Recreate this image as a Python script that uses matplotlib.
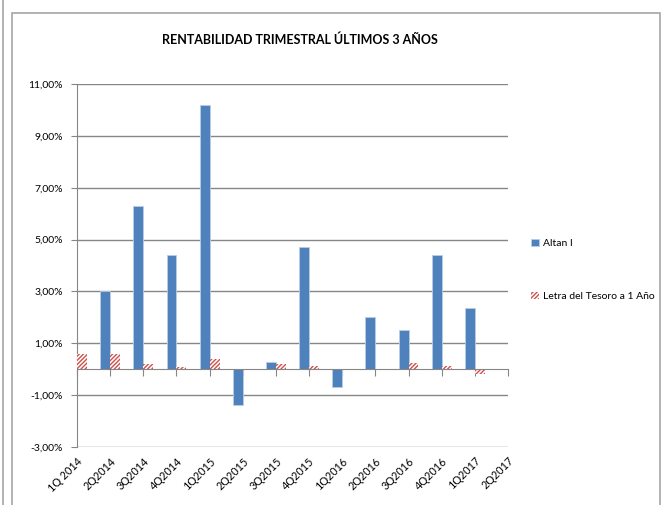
import matplotlib.pyplot as plt
import numpy as np
from matplotlib import font_manager
from matplotlib.patches import Rectangle
from matplotlib.lines import Line2D
from matplotlib.ticker import FuncFormatter, FixedLocator

# the original uses Calibri; Lato is the closest installed
names = set(f.name for f in font_manager.fontManager.ttflist)
fam = 'Lato' if 'Lato' in names else 'Liberation Sans'
plt.rcParams['font.family'] = [fam, 'DejaVu Sans']
plt.rcParams['hatch.linewidth'] = 1.0

# data (quarterly return, %)
quarters = ['1Q 2014', '2Q2014', '3Q2014', '4Q2014', '1Q2015', '2Q2015', '3Q2015',
            '4Q2015', '1Q2016', '2Q2016', '3Q2016', '4Q2016', '1Q2017', '2Q2017']
altan = [np.nan, 3.00, 6.31, 4.41, 10.19, -1.38, 0.28, 4.73, -0.69, 2.02, 1.53, 4.40, 2.35, np.nan]
letra = [0.58, 0.60, 0.19, 0.10, 0.41, 0.0, 0.19, 0.12, 0.0, 0.0, 0.25, 0.14, -0.17, np.nan]
yticks = np.arange(-3, 12, 2)

blue = '#4F81BD'
red = '#D0504D'
grey = '#868686'

fig = plt.figure(figsize=(6.66, 5.05), dpi=100)
ax = fig.add_axes([77 / 666, 1 - 447 / 505, (508 - 77) / 666, (447 - 84) / 505])

x = np.arange(len(quarters))
w = 0.3
ax.bar(x - w / 2, altan, w, color=blue, edgecolor='#B9CDE5', linewidth=0.6, label='Altan I', zorder=3)
ax.bar(x + w / 2, letra, w, color='white', edgecolor=red, hatch='////////', linewidth=0,
       label='Letra del Tesoro a 1 Año', zorder=3)

ax.set_xlim(0, len(quarters) - 1)
ax.set_ylim(-3, 11)
ax.yaxis.set_major_locator(FixedLocator(yticks))
ax.yaxis.set_major_formatter(FuncFormatter(lambda v, p: f'{v:.2f}%'.replace('.', ',')))
ax.grid(axis='y', color=grey, linewidth=1.0, zorder=0)

for s in ['top', 'right']:
    ax.spines[s].set_visible(False)
ax.spines['left'].set_color(grey)
ax.spines['bottom'].set_position(('data', 0))
ax.spines['bottom'].set_color(grey)
ax.spines['bottom'].set_zorder(4)
ax.set_xticks(x)
ax.tick_params(axis='x', direction='out', length=5, color=grey, labelbottom=False)
ax.tick_params(axis='y', direction='out', length=4, color=grey, labelsize=7.5, pad=6)

# category labels sit at the bottom of the plot area
sec = ax.secondary_xaxis('bottom')
sec.set_xticks(x)
sec.set_xticklabels(quarters, rotation=45, ha='right', rotation_mode='anchor', fontsize=7.8)
sec.tick_params(length=0, pad=6)
sec.spines['bottom'].set_visible(False)

fig.text(0.45, 1 - 40 / 505, 'RENTABILIDAD TRIMESTRAL ÚLTIMOS 3 AÑOS', ha='center', va='center',
         fontsize=9, fontweight='bold')

ax.legend(loc='center left', bbox_to_anchor=(522 / 666, 1 - 270 / 505), bbox_transform=fig.transFigure,
          frameon=False, fontsize=7.5, handlelength=0.7, handleheight=0.7, handletextpad=0.4,
          labelspacing=4.2)

# chart border and the neighbouring frame line
fig.patches.append(Rectangle((12 / 666, -0.05), (660 - 12) / 666, 1.05 - 12.5 / 505,
                             transform=fig.transFigure, fill=False, edgecolor='#A6A6A6', linewidth=1.2))
fig.lines.append(Line2D([3 / 666, 3 / 666], [0, 1], transform=fig.transFigure, color='#A6A6A6', linewidth=1.2))

fig.savefig('out.png', dpi=100)
